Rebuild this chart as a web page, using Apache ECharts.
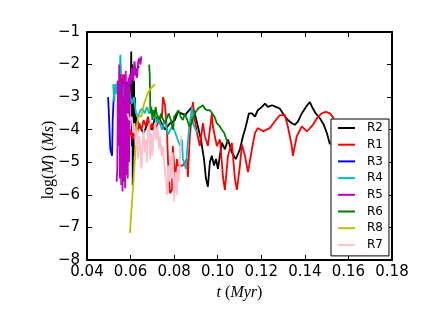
<!DOCTYPE html>
<html><head><meta charset="utf-8">
<script src="https://cdn.jsdelivr.net/npm/echarts@6/dist/echarts.min.js"></script>
<style>html,body{margin:0;padding:0;background:#fff}#c{width:436px;height:327px}</style>
</head><body><div id="c"></div>
<script>
// ---- data ----
const xTicks = [0.04,0.06,0.08,0.10,0.12,0.14,0.16,0.18];
const yTicks = [-8,-7,-6,-5,-4,-3,-2,-1];
const seriesNames = ['R2','R1','R3','R4','R5','R6','R8','R7'];
const seriesColors = ['#000000','#ff0000','#0000ff','#00bfbf','#bf00bf','#008000','#bfbf00','#ffc0cb'];

const r2_t = [0.0600,0.0603,0.0606,0.0608,0.0610,0.0612,0.0614,0.0616,0.0618,0.0620,
  0.0622,0.0625,0.0640,0.0660,0.0680,0.0700,0.0712,0.0735,0.0758,0.0781,
  0.0804,0.0817,0.0850,0.0882,0.0895,0.0909,0.0923,0.0937,0.0946,0.0955,
  0.0964,0.0973,0.0983,0.0992,0.1001,0.1010,0.1019,0.1033,0.1047,0.1065,
  0.1083,0.1102,0.1116,0.1129,0.1143,0.1157,0.1171,0.1184,0.1203,0.1217,
  0.1230,0.1249,0.1267,0.1285,0.1304,0.1322,0.1340,0.1354,0.1368,0.1386,
  0.1405,0.1423,0.1437,0.1450,0.1469,0.1487,0.1501,0.1515];
const r2_m = [-3.2,-1.6,-4.5,-2.0,-5.7,-2.2,-4.8,-2.5,-4.2,-3.0,
  -4.0,-3.6,-3.9,-4.1,-3.8,-4.0,-3.6,-3.7,-4.0,-3.8,
  -3.7,-3.45,-3.55,-3.3,-3.5,-3.9,-4.3,-4.9,-5.5,-5.75,
  -5.0,-4.8,-5.1,-4.9,-5.2,-4.8,-4.4,-4.6,-4.3,-4.7,
  -4.9,-4.6,-4.2,-3.9,-3.5,-3.5,-3.6,-3.4,-3.3,-3.2,
  -3.3,-3.25,-3.3,-3.35,-3.55,-3.7,-3.8,-3.85,-3.75,-3.5,
  -3.3,-3.15,-3.35,-3.5,-3.65,-3.85,-4.1,-4.45];

const r1_t = [0.0560,0.0565,0.0570,0.0573,0.0577,0.0582,0.0590,0.0600,0.0610,0.0620,
  0.0630,0.0640,0.0650,0.0660,0.0670,0.0680,0.0690,0.0700,0.0710,0.0720,
  0.0730,0.0744,0.0749,0.0758,0.0767,0.0772,0.0781,0.0790,0.0794,0.0804,
  0.0813,0.0817,0.0840,0.0859,0.0863,0.0872,0.0882,0.0886,0.0895,0.0905,
  0.0918,0.0928,0.0932,0.0941,0.0955,0.0973,0.0978,0.0996,0.1010,0.1019,
  0.1024,0.1033,0.1047,0.1065,0.1079,0.1088,0.1102,0.1111,0.1125,0.1139,
  0.1157,0.1171,0.1184,0.1207,0.1239,0.1262,0.1285,0.1308,0.1322,0.1340,
  0.1345,0.1363,0.1386,0.1409,0.1437,0.1460,0.1478,0.1496,0.1515,0.1533];
const r1_m = [-3.0,-2.3,-3.8,-2.5,-4.2,-3.2,-4.4,-4.0,-4.3,-3.9,
  -4.1,-3.8,-4.0,-3.7,-3.9,-3.6,-4.0,-3.8,-4.1,-3.9,
  -3.7,-3.6,-3.0,-3.25,-4.0,-5.0,-5.95,-5.85,-4.5,-5.5,
  -4.9,-5.1,-5.1,-4.9,-5.45,-4.2,-3.5,-3.15,-3.7,-4.1,
  -4.5,-4.0,-3.8,-4.2,-4.5,-3.5,-3.9,-4.5,-4.3,-5.0,
  -5.45,-5.85,-4.8,-4.4,-5.5,-5.85,-5.1,-4.45,-4.8,-5.3,
  -4.6,-4.1,-3.95,-4.05,-3.95,-3.75,-3.55,-3.55,-3.9,-4.5,
  -4.8,-4.2,-3.9,-4.05,-3.85,-3.6,-3.5,-3.45,-3.5,-3.65];

const r3_t = [0.0497,0.0502,0.0507,0.0511,0.0515,0.0518,0.0522,0.0527,0.0532,0.0537,
  0.0543,0.0548,0.0553,0.0560,0.0568,0.0575,0.0585,0.0595,0.0605,0.0615,
  0.0625,0.0633,0.0640];
const r3_m = [-3.0,-3.8,-4.6,-4.7,-4.8,-3.7,-3.1,-2.7,-2.8,-2.6,
  -2.65,-2.7,-2.6,-2.8,-2.6,-2.5,-2.6,-2.5,-2.4,-2.3,
  -2.2,-2.1,-2.05];

const r4_t = [0.0520,0.0525,0.0530,0.0535,0.0540,0.0545,0.0550,0.0553,0.0556,0.0559,
  0.0562,0.0566,0.0570,0.0575,0.0580,0.0588,0.0595,0.0605,0.0615,0.0625,
  0.0635,0.0645,0.0655,0.0665,0.0675,0.0685,0.0690,0.0703,0.0721,0.0726,
  0.0744,0.0758,0.0772,0.0790,0.0800,0.0827,0.0836,0.0840,0.0854,0.0859,
  0.0868,0.0882,0.0886,0.0905];
const r4_m = [-2.6,-3.15,-2.6,-2.9,-2.5,-2.7,-2.5,-1.7,-2.2,-3.45,
  -3.85,-2.8,-2.6,-2.9,-2.7,-3.0,-2.8,-3.2,-3.0,-3.5,
  -3.6,-3.4,-3.35,-3.5,-3.3,-3.5,-3.45,-3.4,-3.8,-3.6,
  -4.0,-3.7,-4.15,-3.9,-4.0,-4.5,-4.3,-4.9,-5.2,-4.7,
  -4.0,-3.3,-3.8,-4.1];

const r5_t = [0.0536,0.0539,0.0542,0.0545,0.0548,0.0551,0.0554,0.0557,0.0560,0.0563,
  0.0566,0.0569,0.0572,0.0575,0.0578,0.0581,0.0584,0.0587,0.0590,0.0593,
  0.0596,0.0601,0.0606,0.0612,0.0618,0.0624,0.0630,0.0635,0.0640,0.0645,0.0650];
const r5_m = [-5.6,-5.2,-2.5,-4.5,-2.0,-5.5,-2.3,-5.7,-2.4,-5.9,
  -3.0,-5.6,-2.3,-5.8,-2.2,-5.4,-2.6,-5.5,-2.4,-5.0,
  -2.3,-2.6,-2.1,-2.5,-1.9,-2.3,-2.4,-1.9,-1.8,-2.0,-1.75];

const r6_t = [0.0685,0.0688,0.0691,0.0695,0.0700,0.0705,0.0710,0.0715,0.0720,0.0730,
  0.0740,0.0750,0.0758,0.0767,0.0775,0.0785,0.0795,0.0800,0.0810,0.0820,
  0.0830,0.0840,0.0850,0.0860,0.0870,0.0880,0.0890,0.0900,0.0910,0.0920,
  0.0932,0.0940,0.0950,0.0964,0.0975,0.0985,0.0996,0.1010,0.1019,0.1030,
  0.1040,0.1047];
const r6_m = [-2.0,-2.3,-3.5,-3.3,-3.7,-3.4,-3.6,-3.3,-3.5,-3.7,
  -3.5,-3.7,-3.8,-3.8,-3.5,-3.7,-4.0,-3.6,-3.5,-3.4,
  -3.6,-3.7,-3.5,-3.7,-3.9,-3.8,-3.6,-3.45,-3.35,-3.3,
  -3.25,-3.35,-3.4,-3.4,-3.5,-3.6,-3.8,-3.9,-4.0,-4.1,
  -4.3,-4.4];

const r8_t = [0.0597,0.0629,0.0634,0.0643,0.0650,0.0660,0.0675,0.0690,0.0712];
const r8_m = [-7.17,-4.0,-3.6,-3.55,-3.6,-3.25,-2.95,-2.75,-2.6];

const r7_t = [0.0585,0.0595,0.0605,0.0612,0.0618,0.0625,0.0630,0.0635,0.0640,0.0645,
  0.0650,0.0655,0.0660,0.0665,0.0670,0.0675,0.0680,0.0685,0.0690,0.0695,
  0.0700,0.0705,0.0712,0.0718,0.0724,0.0730,0.0736,0.0742,0.0748,0.0755,
  0.0762,0.0768,0.0773,0.0778,0.0783,0.0788,0.0793,0.0800,0.0806,0.0812,
  0.0817,0.0822,0.0828,0.0833];
const r7_m = [-3.5,-3.7,-3.6,-4.1,-3.8,-4.5,-4.0,-4.9,-4.2,-4.6,
  -5.2,-4.4,-4.0,-4.7,-4.3,-5.0,-4.0,-3.8,-4.9,-4.1,
  -4.8,-4.2,-3.8,-4.3,-3.9,-4.6,-4.2,-4.8,-4.5,-5.1,
  -5.5,-6.0,-5.1,-5.6,-4.8,-5.5,-4.7,-6.2,-5.3,-6.0,
  -5.2,-5.6,-4.6,-4.2];

// ---- build ----
const tData = [r2_t, r1_t, r3_t, r4_t, r5_t, r6_t, r8_t, r7_t];
const mData = [r2_m, r1_m, r3_m, r4_m, r5_m, r6_m, r8_m, r7_m];
const zip = (a, b) => a.map((v, i) => [v, b[i]]);

const tickFont = {fontFamily: 'DejaVu Sans', fontSize: 15, color: '#000'};
const lineAx = {show: true, lineStyle: {color: '#000', width: 2}};
const tickAx = {show: true, inside: true, length: 5, lineStyle: {color: '#000', width: 1}};
const minus = v => (v < 0 ? '\u2212' : '') + Math.abs(v);

const chart = echarts.init(document.getElementById('c'), null, {renderer: 'canvas'});
chart.setOption({
  animation: false,
  backgroundColor: '#fff',
  grid: {left: 87, right: 44, top: 32, bottom: 67, containLabel: false},
  xAxis: [
    {type: 'value', min: xTicks[0], max: xTicks[xTicks.length-1], interval: 0.02,
     axisLine: lineAx, axisTick: tickAx, splitLine: {show: false},
     axisLabel: Object.assign({margin: 5, formatter: v => v.toFixed(2)}, tickFont),
     name: '{i|t} ({i|Myr})', nameLocation: 'middle', nameGap: 24,
     nameTextStyle: {fontFamily: 'Liberation Serif', fontSize: 16, color: '#000',
       rich: {i: {fontFamily: 'Liberation Serif', fontStyle: 'italic', fontSize: 16, color: '#000'}}}},
    {type: 'value', position: 'top', min: xTicks[0], max: xTicks[xTicks.length-1], interval: 0.02,
     axisLine: lineAx, axisTick: tickAx, axisLabel: {show: false}, splitLine: {show: false}}
  ],
  yAxis: [
    {type: 'value', min: yTicks[0], max: yTicks[yTicks.length-1], interval: 1,
     axisLine: lineAx, axisTick: tickAx, splitLine: {show: false},
     axisLabel: Object.assign({margin: 7, formatter: minus}, tickFont)},
    {type: 'value', position: 'right', min: yTicks[0], max: yTicks[yTicks.length-1], interval: 1,
     axisLine: lineAx, axisTick: tickAx, axisLabel: {show: false}, splitLine: {show: false}}
  ],
  graphic: [{
    type: 'text', x: 49, y: 160, rotation: Math.PI / 2,
    style: {
      text: 'log({i|M}) ({i|Ms})',
      fontFamily: 'Liberation Serif', fontSize: 16, fill: '#000',
      align: 'center', verticalAlign: 'middle',
      rich: {i: {fontFamily: 'Liberation Serif', fontStyle: 'italic', fontSize: 16, fill: '#000'}}
    }
  }],
  legend: {
    data: seriesNames, orient: 'vertical', left: 331, top: 119,
    padding: [3, 6, 5, 7], itemGap: 4.7, itemWidth: 17, itemHeight: 2, icon: 'rect',
    backgroundColor: '#fff', borderColor: '#000', borderWidth: 1, borderRadius: 0,
    textStyle: {fontFamily: 'DejaVu Sans', fontSize: 12, color: '#000', lineHeight: 12, padding: [0, 0, 0, 7]}
  },
  series: seriesNames.map((n, i) => ({
    name: n, type: 'line', data: zip(tData[i], mData[i]),
    showSymbol: false, symbol: 'none', color: seriesColors[i],
    lineStyle: {width: 1.8, color: seriesColors[i]}, clip: true
  }))
});
</script></body></html>
